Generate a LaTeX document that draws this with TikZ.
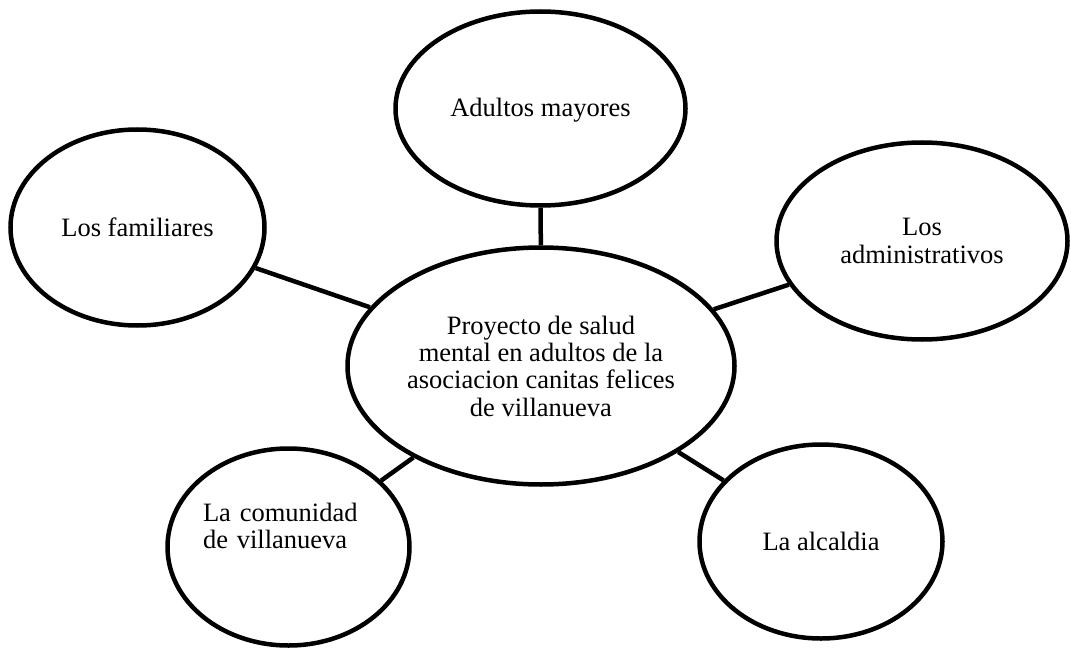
\documentclass[tikz,border=0pt]{standalone}
\usepackage{fontspec}
\setmainfont{Liberation Serif}
\usetikzlibrary{shapes.geometric}

\begin{document}
\begin{tikzpicture}[x=1pt,y=-1pt,line width=4.5pt,
    bubble/.style={draw,ellipse,inner sep=0pt,align=center,
      font=\fontsize{26.5pt}{27.3pt}\selectfont}]
  \useasboundingbox (0,0) rectangle (1071,650);
  \node[bubble,minimum width=387pt,minimum height=237pt] (proy) at (541,366)
    {Proyecto de salud\\mental en adultos de la\\asociacion canitas felices\\de villanueva};
  \node[bubble,minimum width=290pt,minimum height=194pt,text depth=3pt] (adul) at (540.5,108.5)
    {Adultos mayores};
  \node[bubble,minimum width=254pt,minimum height=196pt] (fami) at (137.5,227.5)
    {Los familiares};
  \node[bubble,minimum width=291pt,minimum height=197pt] (admi) at (922,241)
    {Los\\administrativos};
  \node[bubble,minimum width=242pt,minimum height=197pt,align=left,
    text width=171pt,text depth=69pt] (comu) at (288.5,547)
    {La comunidad\\de villanueva};
  \node[bubble,minimum width=243pt,minimum height=194pt] (alca) at (821,541.5)
    {La alcaldia};
  \path (proy) edge (adul)
  edge (fami)
  edge (admi)
  edge (comu)
  edge (alca)
  ;
\end{tikzpicture}
\end{document}
